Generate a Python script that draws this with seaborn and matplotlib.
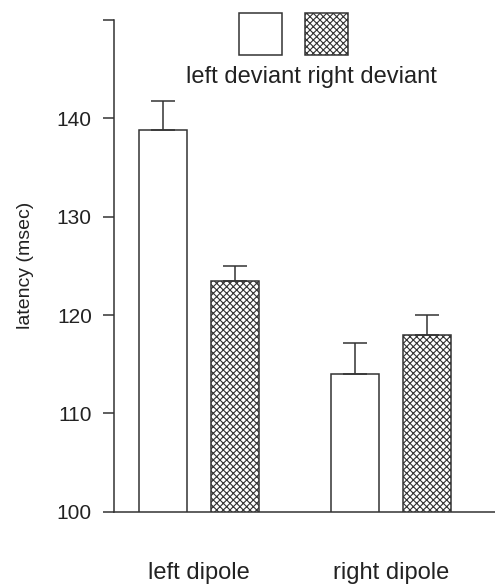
import numpy as np
import pandas as pd
import matplotlib
matplotlib.use('Agg')
import matplotlib.pyplot as plt
from matplotlib.patches import Rectangle
import seaborn as sns

# podaci procitani sa slike
dipoles = ['left dipole', 'right dipole']
deviants = ['left deviant', 'right deviant']
latency_left_dev = [138.8, 114.0]
latency_right_dev = [123.5, 118.0]
err_left_dev = [3.0, 3.2]
err_right_dev = [1.5, 2.0]
y_ticks = [100, 110, 120, 130, 140, 150]
y_tick_labels = ['100', '110', '120', '130', '140', '']

df = pd.DataFrame({
    'dipole': dipoles * 2,
    'deviant': [deviants[0]] * 2 + [deviants[1]] * 2,
    'latency': latency_left_dev + latency_right_dev,
    'err': err_left_dev + err_right_dev,
})

sns.set_style('white')
plt.rcParams['font.family'] = ['Liberation Sans', 'DejaVu Sans']
plt.rcParams['hatch.linewidth'] = 0.8

ink = '#333333'
hatch_col = '#777777'
fig = plt.figure(figsize=(4.95, 5.85), dpi=100)
ax = fig.add_axes([0.2303, 0.1253, 0.7697, 0.8405])

sns.barplot(data=df, x='dipole', y='latency', hue='deviant', order=dipoles,
            hue_order=deviants, palette={'left deviant': 'white', 'right deviant': 'white'},
            width=0.75, gap=1/3, errorbar=None, edgecolor=ink, linewidth=1.1,
            legend=False, ax=ax)

# srafura na desnom devijantu
for bar in ax.containers[1]:
    bar.set_hatch('xxxxx')
    if hasattr(bar, 'set_hatchcolor'):
        bar.set_hatchcolor(hatch_col)

# error barovi samo prema gore
for cont, dev in zip(ax.containers, deviants):
    sub = df[df.deviant == dev].set_index('dipole').loc[dipoles]
    xs = [b.get_x() + b.get_width() / 2 for b in cont]
    ax.errorbar(xs, sub.latency, yerr=[np.zeros(len(xs)), sub.err], fmt='none',
                ecolor=ink, elinewidth=1.1, capsize=8.6, capthick=1.1, zorder=1)

ax.set_ylim(100, 150)
ax.set_xlim(-0.444, 1.54)
ax.set_yticks(y_ticks)
ax.set_yticklabels(y_tick_labels)
ax.set_ylabel('latency (msec)', fontsize=14, color='#222222', labelpad=16)
ax.set_xlabel('')
ax.tick_params(axis='y', length=8, width=1.1, color=ink, pad=8, labelsize=15, labelcolor='#222222', left=True)
ax.tick_params(axis='x', length=0, pad=36, labelsize=17, labelcolor='#222222')
sns.despine(ax=ax)
for s in ['left', 'bottom']:
    ax.spines[s].set_color(ink)
    ax.spines[s].set_linewidth(1.1)

# legenda iznad stupaca
W, H = 495, 585
for x0, hatch in [(239.3, None), (304.7, 'xxxxx')]:
    r = Rectangle((x0 / W, 1 - 55 / H), 43 / W, 42 / H, transform=fig.transFigure,
                  facecolor='white', edgecolor=ink, linewidth=1.1, hatch=hatch)
    if hatch and hasattr(r, 'set_hatchcolor'):
        r.set_hatchcolor(hatch_col)
    fig.add_artist(r)
fig.text(311 / W, 1 - 77 / H, 'left deviant right deviant', ha='center', va='center',
         fontsize=17, color='#222222')

fig.savefig('out.png', dpi=100)
